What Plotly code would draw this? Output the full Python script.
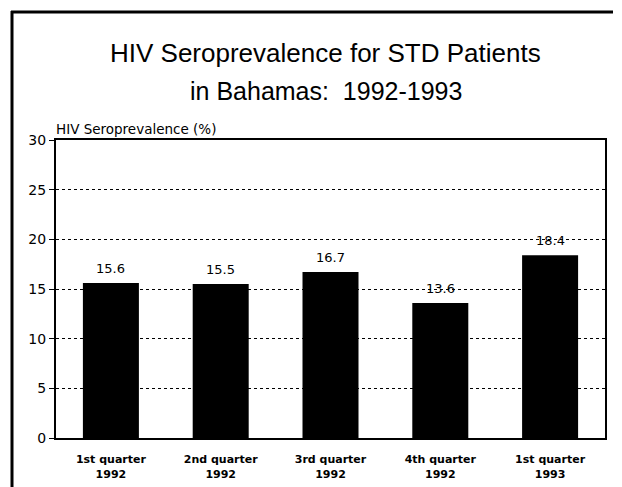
import plotly.graph_objects as go

categories = ["1st quarter<br>1992", "2nd quarter<br>1992", "3rd quarter<br>1992",
              "4th quarter<br>1992", "1st quarter<br>1993"]
values = [15.6, 15.5, 16.7, 13.6, 18.4]
y_ticks = [0, 5, 10, 15, 20, 25, 30]

TFONT = "Liberation Sans, Arial, sans-serif"
FONT = "DejaVu Sans, sans-serif"

# plot area in px
L, R, T, B = 56, 17, 140, 49
W, H = 622, 487
pw, ph = W - L - R, H - T - B

def px_x(x):
    return (x - L) / pw

def px_y(y):
    return (H - B - y) / ph

fig = go.Figure()
fig.add_trace(go.Bar(
    x=categories, y=values,
    marker=dict(color="black", line=dict(width=0)),
    width=0.51,
    hoverinfo="skip",
))

value_ann = [
    dict(x=c, y=v, xref="x", yref="y", text=f"{v:.1f}", showarrow=False,
         yanchor="bottom", yshift=5, font=dict(family=FONT, size=13, color="black"))
    for c, v in zip(categories, values)
]

fig.update_layout(
    width=W, height=H,
    margin=dict(l=L, r=R, t=T, b=B, autoexpand=False),
    paper_bgcolor="white", plot_bgcolor="white",
    showlegend=False,
    font=dict(family=FONT, color="black"),
    xaxis=dict(
        showline=True, linecolor="black", linewidth=2, mirror=True,
        showgrid=False, ticks="", ticklabelstandoff=10, automargin=False,
        tickfont=dict(family=FONT, size=11, color="black", weight="bold"),
    ),
    yaxis=dict(
        range=[0, 30], tickvals=y_ticks, automargin=False,
        showline=True, linecolor="black", linewidth=2, mirror=True,
        showgrid=True, gridcolor="black", gridwidth=1, griddash="dot",
        ticks="outside", ticklen=5, tickcolor="black", tickwidth=1,
        tickfont=dict(family=FONT, size=14, color="black"),
        zeroline=False,
    ),
    shapes=[
        dict(type="line", xref="paper", yref="paper",
             x0=px_x(12), x1=px_x(12), y0=px_y(11), y1=px_y(487),
             line=dict(color="black", width=3)),
        dict(type="line", xref="paper", yref="paper",
             x0=px_x(11), x1=px_x(613), y0=px_y(12), y1=px_y(12),
             line=dict(color="black", width=3)),
    ],
    annotations=value_ann + [
        dict(text="HIV Seroprevalence for STD Patients", xref="paper", yref="paper",
             x=px_x(325), y=px_y(53), xanchor="center", yanchor="middle",
             showarrow=False, font=dict(family=TFONT, size=26, color="black")),
        dict(text="in Bahamas:  1992-1993", xref="paper", yref="paper",
             x=px_x(326), y=px_y(91), xanchor="center", yanchor="middle",
             showarrow=False, font=dict(family=TFONT, size=25, color="black")),
        dict(text="HIV Seroprevalence (%)", xref="paper", yref="paper",
             x=px_x(54), y=px_y(129), xanchor="left", yanchor="middle",
             showarrow=False, font=dict(family=FONT, size=13.5, color="black")),
    ],
)

fig.write_html("out.html", config={"displayModeBar": False},
               post_script="document.body.style.margin='0';")
